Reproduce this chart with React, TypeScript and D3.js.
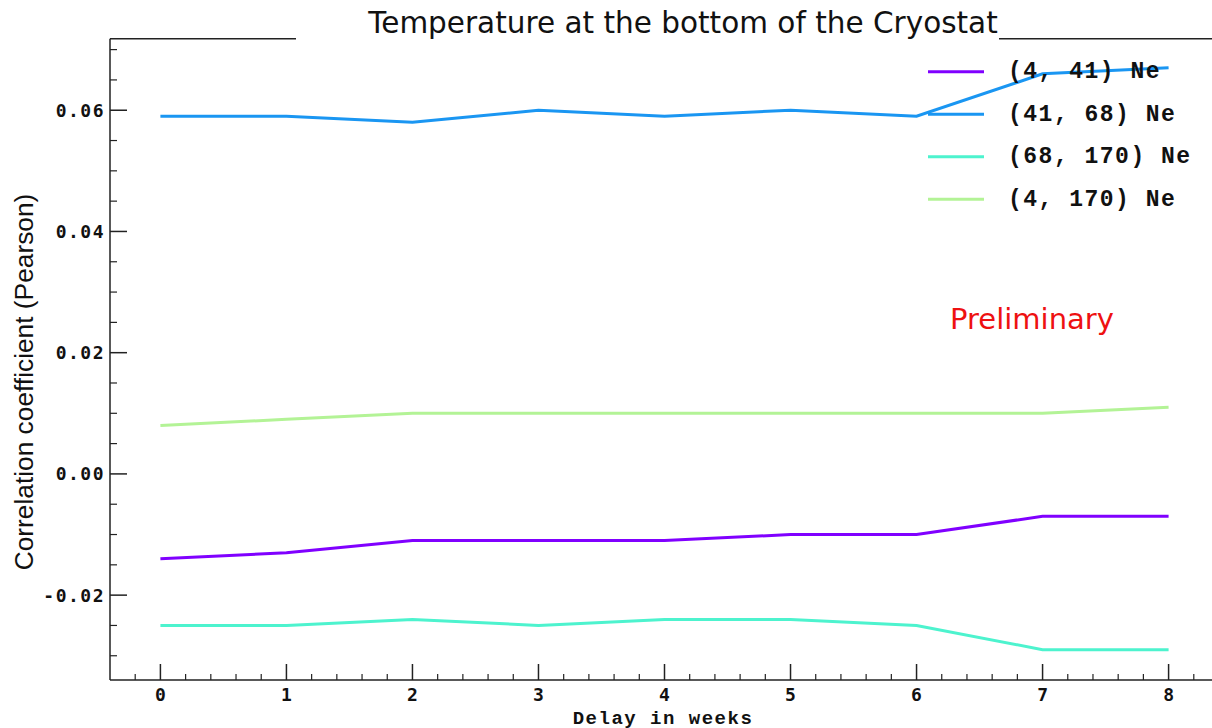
import React from 'react';
import * as d3 from 'd3';

// delay in weeks
const delays = [0, 1, 2, 3, 4, 5, 6, 7, 8];

const seriesLabels = ['(4, 41) Ne', '(41, 68) Ne', '(68, 170) Ne', '(4, 170) Ne'];
const seriesColors = ['#8000ff', '#1a96f2', '#4df3ce', '#b3f396'];

const ne4to41 = [-0.014, -0.013, -0.011, -0.011, -0.011, -0.010, -0.010, -0.007, -0.007];
const ne41to68 = [0.059, 0.059, 0.058, 0.060, 0.059, 0.060, 0.059, 0.066, 0.067];
const ne68to170 = [-0.025, -0.025, -0.024, -0.025, -0.024, -0.024, -0.025, -0.029, -0.029];
const ne4to170 = [0.008, 0.009, 0.010, 0.010, 0.010, 0.010, 0.010, 0.010, 0.011];

const seriesValues = [ne4to41, ne41to68, ne68to170, ne4to170];

const xMajor = [0, 1, 2, 3, 4, 5, 6, 7, 8];
const yMajor = [-0.02, 0.0, 0.02, 0.04, 0.06];

const W = 1212;
const H = 728;

const fmt = (v: number) => d3.format('.2f')(v).replace('\u2212', '-');

const App = () => {
  const x = d3.scaleLinear().domain([-0.4, 8.4]).range([110, 1219]);
  const y = d3.scaleLinear().domain([-0.034, 0.0718]).range([680, 38.7]);

  // minor ticks: every 0.2 on x, every 0.005 on y
  const xMinor = d3.range(-2, 83).map(i => i / 10).filter(v => Math.round(v * 10) % 2 === 0 && Math.round(v * 10) % 10 !== 0);
  const yMinor = d3.range(-6, 15).map(i => i * 0.005).filter(v => Math.abs(Math.round(v * 1000) % 20) !== 0);

  const line = d3.line<[number, number]>()
    .x(d => x(d[0]))
    .y(d => y(d[1]));

  const axisColor = '#222';
  const top = y.range()[1];

  return (
    <svg width={W} height={H} style={{ position: 'fixed', left: 0, top: 0, background: '#fff' }}>
      {/* frame: left and bottom axes, top line broken by the title */}
      <line x1={110} x2={110} y1={top} y2={680} stroke={axisColor} strokeWidth={1.5} />
      <line x1={110} x2={W} y1={680} y2={680} stroke={axisColor} strokeWidth={1.5} />
      <line x1={110} x2={296} y1={top} y2={top} stroke={axisColor} strokeWidth={1.5} />
      <line x1={999} x2={W} y1={top} y2={top} stroke={axisColor} strokeWidth={1.5} />

      {/* x ticks */}
      {xMajor.map(v => (
        <g key={'xm' + v}>
          <line x1={x(v)} x2={x(v)} y1={680} y2={664} stroke={axisColor} strokeWidth={1.5} />
          <text x={x(v)} y={701} textAnchor="middle" fontFamily="DejaVu Sans Mono" fontWeight={600} fontSize={18} fill="#111">{v}</text>
        </g>
      ))}
      {xMinor.map(v => (
        <line key={'xn' + v} x1={x(v)} x2={x(v)} y1={680} y2={674} stroke={axisColor} strokeWidth={1.2} />
      ))}

      {/* y ticks */}
      {yMajor.map(v => (
        <g key={'ym' + v}>
          <line x1={110} x2={127} y1={y(v)} y2={y(v)} stroke={axisColor} strokeWidth={1.5} />
          <text x={105} y={y(v) + 6.5} textAnchor="end" fontFamily="DejaVu Sans Mono" fontWeight={600} fontSize={18} letterSpacing={1.5} fill="#111">{fmt(v)}</text>
        </g>
      ))}
      {yMinor.map(v => (
        <line key={'yn' + v} x1={110} x2={117} y1={y(v)} y2={y(v)} stroke={axisColor} strokeWidth={1.2} />
      ))}

      {/* series */}
      {seriesValues.map((vals, i) => (
        <path key={'s' + i} d={line(delays.map((d, j) => [d, vals[j]]) as [number, number][]) || ''}
          fill="none" stroke={seriesColors[i]} strokeWidth={3} />
      ))}

      {/* legend */}
      {seriesLabels.map((lab, i) => (
        <g key={'l' + i} transform={`translate(0, ${71.7 + i * 42.5})`}>
          <line x1={928} x2={984} y1={0} y2={0} stroke={seriesColors[i]} strokeWidth={3} />
          <text x={1008} y={6.5} fontFamily="Liberation Mono" fontWeight="bold" fontSize={23} letterSpacing={1.5} fill="#111">{lab}</text>
        </g>
      ))}

      {/* titles */}
      <text x={683} y={33} textAnchor="middle" fontFamily="DejaVu Sans" fontSize={29.5} fill="#111">Temperature at the bottom of the Cryostat</text>
      <text x={663} y={724} textAnchor="middle" fontFamily="Liberation Mono" fontWeight="bold" fontSize={19} letterSpacing={1.5} fill="#111">Delay in weeks</text>
      <text transform="translate(33, 382) rotate(-90)" textAnchor="middle" fontFamily="Liberation Sans" fontSize={26.3} fill="#111">Correlation coefficient (Pearson)</text>
      <text x={1032} y={329} textAnchor="middle" fontFamily="DejaVu Sans" fontSize={29} fill="#ee1111">Preliminary</text>
    </svg>
  );
};

export default App;
